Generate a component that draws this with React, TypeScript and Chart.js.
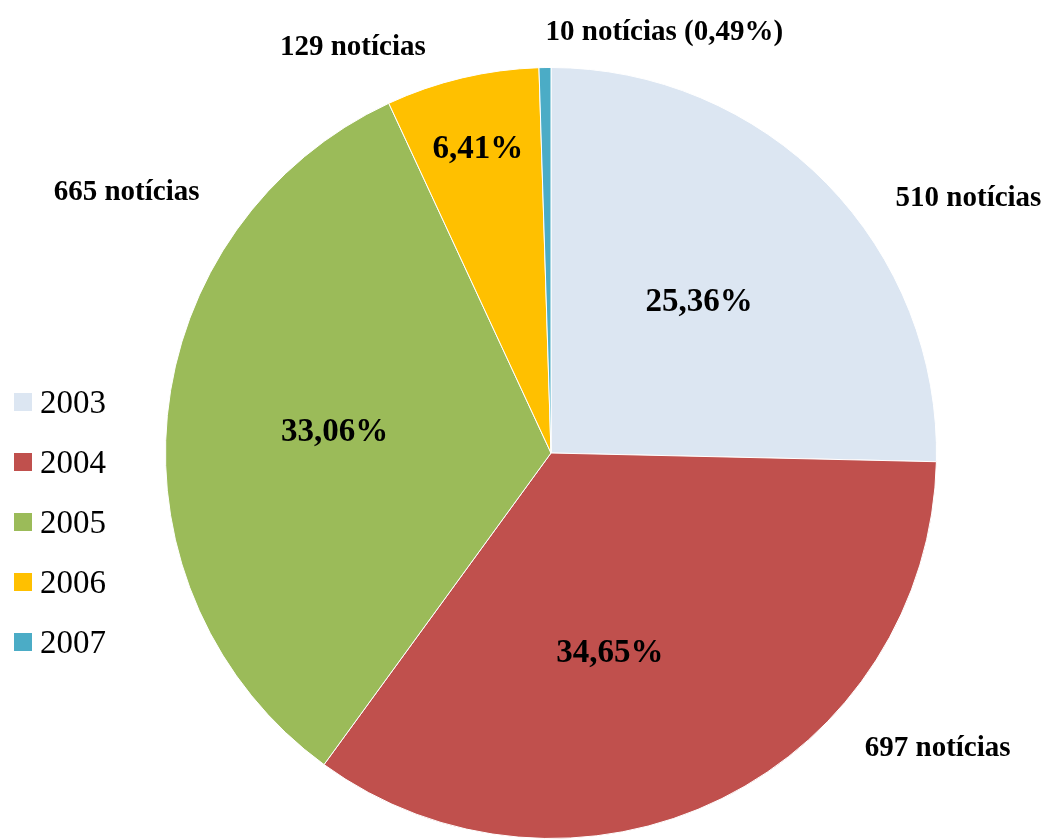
import React, { useEffect, useRef } from "react";
import { Chart, registerables } from "chart.js";

Chart.register(...registerables);

const years = ["2003", "2004", "2005", "2006", "2007"];
const counts = [510, 697, 665, 129, 10];
const percentLabels = ["25,36%", "34,65%", "33,06%", "6,41%", ""];
const countLabels = ["510 notícias", "697 notícias", "665 notícias", "129 notícias", "10 notícias (0,49%)"];
const colors = ["#DCE6F2", "#C0504D", "#9BBB59", "#FFC000", "#4BACC6"];

// offset of the percentage text from the pie centre, in radii
const innerOffsets: [number, number][] = [
  [0.384, -0.39],
  [0.153, 0.519],
  [-0.561, -0.053],
  [-0.19, -0.788],
  [0, 0],
];
// offset of the count label from the pie centre, in radii
const outerOffsets: [number, number][] = [
  [1.083, -0.661],
  [1.003, 0.766],
  [-1.101, -0.675],
  [-0.514, -1.051],
  [0.294, -1.09],
];

const SERIF = '"Liberation Serif", "Times New Roman", serif';

const labelPlugin = {
  id: "sliceLabels",
  afterDatasetsDraw(chart: any) {
    const ctx = chart.ctx as CanvasRenderingContext2D;
    const meta = chart.getDatasetMeta(0);
    ctx.save();
    ctx.fillStyle = "#000";
    ctx.textAlign = "center";
    ctx.textBaseline = "middle";
    meta.data.forEach((arc: any, i: number) => {
      const { x, y, outerRadius } = arc.getProps(["x", "y", "outerRadius"], true);
      if (percentLabels[i]) {
        const [ix, iy] = innerOffsets[i];
        ctx.font = `bold 33px ${SERIF}`;
        ctx.fillText(percentLabels[i], x + ix * outerRadius, y + iy * outerRadius);
      }
      const [ox, oy] = outerOffsets[i];
      ctx.font = `bold 29px ${SERIF}`;
      ctx.fillText(countLabels[i], x + ox * outerRadius, y + oy * outerRadius);
    });

    // legend on the left
    ctx.textAlign = "left";
    ctx.font = `33px ${SERIF}`;
    years.forEach((yr, i) => {
      const cy = 402 + i * 60;
      ctx.fillStyle = colors[i];
      ctx.fillRect(14, cy - 9, 18, 18);
      ctx.fillStyle = "#000";
      ctx.fillText(yr, 40, cy + 2);
    });
    ctx.restore();
  },
};

export default function App() {
  const canvasRef = useRef<HTMLCanvasElement | null>(null);

  useEffect(() => {
    if (!canvasRef.current) return;
    const chart = new Chart(canvasRef.current, {
      type: "pie",
      data: {
        labels: years,
        datasets: [
          {
            data: counts,
            backgroundColor: colors,
            borderColor: "#ffffff",
            borderWidth: 1,
          },
        ],
      },
      options: {
        responsive: false,
        animation: false,
        layout: { padding: { left: 165, right: 109, top: 67, bottom: 1 } },
        plugins: {
          legend: { display: false },
          tooltip: { enabled: false },
        },
      },
      plugins: [labelPlugin],
    });
    return () => chart.destroy();
  }, []);

  return (
    <div style={{ position: "absolute", left: 0, top: 0, width: 1046, height: 840, background: "#fff" }}>
      <canvas ref={canvasRef} width={1046} height={840} />
    </div>
  );
}
